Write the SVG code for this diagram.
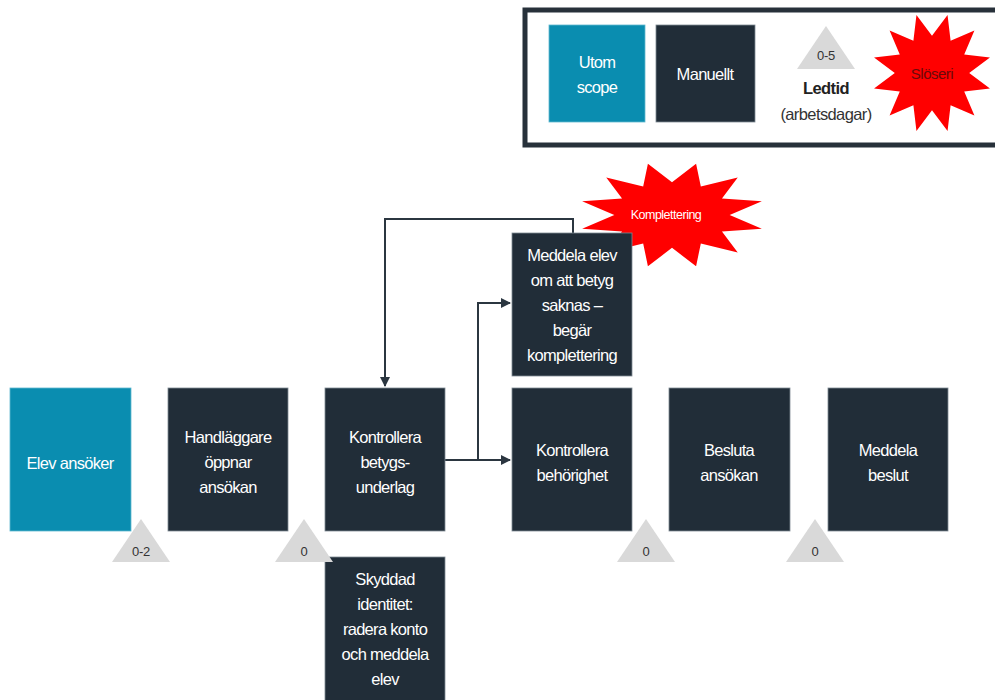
<svg xmlns="http://www.w3.org/2000/svg" width="995" height="700" viewBox="0 0 995 700">
<style>
.n{fill:#212d38;stroke:#7f8a93;stroke-width:0.8}
.t{fill:#0a8db0;stroke:#5fb8d0;stroke-width:0.8}
.lbl{font-family:"Liberation Sans",Arial,sans-serif;font-size:16.5px;fill:#ffffff;text-anchor:middle;letter-spacing:-0.7px}
.tri{fill:#d9d9d9}
.tn{font-family:"Liberation Sans",Arial,sans-serif;font-size:13px;fill:#333;text-anchor:middle;letter-spacing:-0.3px}
.c{fill:none;stroke:#2b3640;stroke-width:2}
.star{fill:#ff0000}
</style>
<defs>
<marker id="ah" viewBox="0 0 10 10" refX="9" refY="5" markerWidth="5" markerHeight="5" orient="auto" markerUnits="strokeWidth">
<path d="M0,0 L10,5 L0,10 z" fill="#2b3640"/>
</marker>
<polygon id="burst" points="25.9,-96.6 31,-53.7 70.7,-70.7 53.7,-31 96.6,-25.9 62,0 96.6,25.9 53.7,31 70.7,70.7 31,53.7 25.9,96.6 0,62 -25.9,96.6 -31,53.7 -70.7,70.7 -53.7,31 -96.6,25.9 -62,0 -96.6,-25.9 -53.7,-31 -70.7,-70.7 -31,-53.7 -25.9,-96.6 0,-62"/>
</defs>

<g id="legend">
<rect x="525" y="10" width="480" height="135" fill="#ffffff" stroke="#27313a" stroke-width="5"/>
<rect class="t" x="549" y="25" width="96" height="97"/>
<text class="lbl" x="597" y="68">Utom</text>
<text class="lbl" x="597" y="93">scope</text>
<rect class="n" x="656" y="25" width="99" height="97"/>
<text class="lbl" x="705" y="80">Manuellt</text>
<polygon class="tri" points="826,26 797,69 855,69"/>
<text class="tn" x="826" y="60">0-5</text>
<text x="826" y="94" font-family="Liberation Sans,Arial,sans-serif" font-size="16.5" font-weight="bold" fill="#222" text-anchor="middle" letter-spacing="-0.6">Ledtid</text>
<text x="826" y="120" font-family="Liberation Sans,Arial,sans-serif" font-size="16.5" fill="#333" text-anchor="middle" letter-spacing="-0.6">(arbetsdagar)</text>
<use href="#burst" class="star" transform="translate(932,73) scale(0.6,0.6)"/>
<text x="932" y="79" font-family="Liberation Sans,Arial,sans-serif" font-size="15" fill="#6a0a0a" text-anchor="middle" letter-spacing="-0.5">Slöseri</text>
</g>

<g id="komplettering">
<use href="#burst" class="star" transform="translate(672,215) scale(0.93,0.53)"/>
<text x="666" y="219" font-family="Liberation Sans,Arial,sans-serif" font-size="12.5" fill="#ffffff" text-anchor="middle" letter-spacing="-0.5">Komplettering</text>
</g>

<g id="connectors">
<path class="c" d="M445,460 H510" marker-end="url(#ah)"/>
<path class="c" d="M478,460 V303 H510" marker-end="url(#ah)"/>
<path class="c" d="M573,233 V219 H385 V386" marker-end="url(#ah)"/>
</g>

<g id="elev-ansoker">
<rect class="t" x="10" y="388" width="121" height="143"/>
<text class="lbl" x="70" y="469">Elev ansöker</text>
</g>
<g id="handlaggare">
<rect class="n" x="168" y="388" width="120" height="143"/>
<text class="lbl" x="228" y="443">Handläggare</text>
<text class="lbl" x="228" y="468">öppnar</text>
<text class="lbl" x="228" y="493">ansökan</text>
</g>
<g id="kontrollera-betyg">
<rect class="n" x="325" y="388" width="120" height="143"/>
<text class="lbl" x="385" y="443">Kontrollera</text>
<text class="lbl" x="385" y="468">betygs-</text>
<text class="lbl" x="385" y="493">underlag</text>
</g>
<g id="meddela-elev">
<rect class="n" x="512" y="233" width="120" height="143"/>
<text class="lbl" x="572" y="261">Meddela elev</text>
<text class="lbl" x="572" y="286">om att betyg</text>
<text class="lbl" x="572" y="311">saknas –</text>
<text class="lbl" x="572" y="336">begär</text>
<text class="lbl" x="572" y="361">komplettering</text>
</g>
<g id="kontrollera-behorighet">
<rect class="n" x="512" y="388" width="120" height="143"/>
<text class="lbl" x="572" y="456">Kontrollera</text>
<text class="lbl" x="572" y="481">behörighet</text>
</g>
<g id="besluta">
<rect class="n" x="669" y="388" width="121" height="143"/>
<text class="lbl" x="729" y="456">Besluta</text>
<text class="lbl" x="729" y="481">ansökan</text>
</g>
<g id="meddela-beslut">
<rect class="n" x="828" y="388" width="120" height="143"/>
<text class="lbl" x="888" y="456">Meddela</text>
<text class="lbl" x="888" y="481">beslut</text>
</g>
<g id="skyddad">
<rect class="n" x="325" y="557" width="120" height="145"/>
<text class="lbl" x="385" y="585">Skyddad</text>
<text class="lbl" x="385" y="610">identitet:</text>
<text class="lbl" x="385" y="635">radera konto</text>
<text class="lbl" x="385" y="660">och meddela</text>
<text class="lbl" x="385" y="685">elev</text>
</g>

<g id="ledtid-1">
<polygon class="tri" points="141,519 112,562 170,562"/>
<text class="tn" x="141" y="556">0-2</text>
</g>
<g id="ledtid-2">
<polygon class="tri" points="304,519 275,562 333,562"/>
<text class="tn" x="304" y="556">0</text>
</g>
<g id="ledtid-3">
<polygon class="tri" points="646,519 617,562 675,562"/>
<text class="tn" x="646" y="556">0</text>
</g>
<g id="ledtid-4">
<polygon class="tri" points="815,519 786,562 844,562"/>
<text class="tn" x="815" y="556">0</text>
</g>
</svg>
